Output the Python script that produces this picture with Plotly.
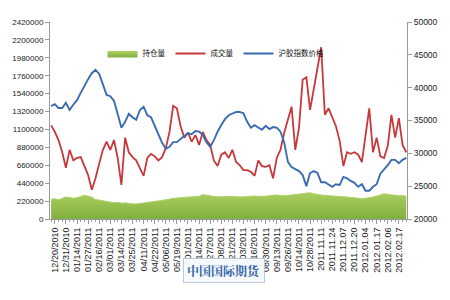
import plotly.graph_objects as go

# ---- data (sampled every 3 trading days) ----
x_labels = ["12/20/2010", "12/31/2010", "01/14/2011", "01/27/2011", "02/16/2011",
            "03/01/2011", "03/14/2011", "03/25/2011", "04/11/2011", "04/22/2011",
            "05/06/2011", "05/19/2011", "06/01/2011", "06/14/2011", "06/27/2011",
            "07/08/2011", "07/21/2011", "08/03/2011", "08/16/2011", "08/30/2011",
            "09/13/2011", "09/26/2011", "10/14/2011", "10/28/2011", "2011.11.11",
            "2011.11.24", "2011.12.07", "2011.12.20", "2012.01.04", "2012.01.17",
            "2012.02.06", "2012.02.17"]

open_interest = [240000, 250000, 235000, 250000, 270000, 265000, 255000, 262000, 280000, 292000,
                 280000, 268000, 240000, 232000, 225000, 218000, 210000, 200000, 205000, 195000,
                 198000, 190000, 186000, 184000, 190000, 195000, 200000, 205000, 212000, 220000,
                 228000, 235000, 245000, 255000, 258000, 262000, 265000, 270000, 272000, 270000,
                 278000, 300000, 290000, 282000, 276000, 272000, 275000, 270000, 274000, 278000,
                 272000, 268000, 272000, 276000, 280000, 282000, 278000, 275000, 280000, 285000,
                 290000, 295000, 290000, 285000, 290000, 295000, 298000, 305000, 312000, 320000,
                 322000, 310000, 300000, 295000, 290000, 285000, 280000, 278000, 275000, 272000,
                 270000, 268000, 262000, 255000, 248000, 252000, 262000, 270000, 280000, 295000,
                 310000, 305000, 298000, 292000, 285000, 290000, 280000]

volume = [1150000, 1070000, 970000, 820000, 630000, 850000, 720000, 750000, 760000, 640000,
          540000, 360000, 500000, 680000, 850000, 950000, 850000, 970000, 750000, 420000,
          1000000, 820000, 760000, 720000, 630000, 530000, 750000, 800000, 770000, 720000,
          760000, 870000, 1070000, 1390000, 1360000, 1140000, 1000000, 1060000, 950000, 1030000,
          910000, 1070000, 970000, 910000, 720000, 650000, 790000, 820000, 750000, 850000,
          700000, 660000, 600000, 600000, 580000, 530000, 720000, 650000, 640000, 660000,
          500000, 750000, 850000, 1060000, 1220000, 1380000, 850000, 1120000, 1710000, 1740000,
          1340000, 1610000, 1870000, 2110000, 1280000, 1360000, 1250000, 1140000, 960000, 650000,
          820000, 800000, 820000, 790000, 700000, 1030000, 1360000, 820000, 1000000, 770000,
          750000, 900000, 1280000, 1000000, 1240000, 910000, 820000]

price = [37200, 37500, 36900, 36900, 37700, 36600, 37400, 38100, 39200, 40300,
         41300, 42200, 42700, 42100, 40400, 38900, 38700, 38000, 36000, 33900,
         34800, 36000, 35500, 35100, 36600, 37100, 35800, 35500, 34200, 32800,
         31600, 30700, 31000, 31700, 31700, 32200, 32600, 33100, 32900, 33400,
         33300, 32800, 31700, 31000, 32000, 33300, 34300, 35200, 35800, 36100,
         36300, 36300, 36100, 34800, 33900, 34300, 34000, 33600, 34200, 33700,
         34000, 33900, 33300, 31700, 28700, 27900, 27600, 27300, 26700, 25000,
         27000, 27300, 27000, 25600, 25600, 25200, 24900, 25300, 25200, 26400,
         26200, 25800, 25500, 24900, 25300, 24300, 24300, 24900, 25300, 26900,
         27500, 28200, 29000, 29000, 28500, 29000, 29300]

left_ticks = list(range(0, 2420001, 220000))
right_ticks = list(range(20000, 50001, 5000))

x = list(range(len(volume)))
tick_pos = [3 * k + 1 for k in range(len(x_labels))]

font_en = "Liberation Sans, Arial, sans-serif"
font_cn = "Noto Sans CJK SC, sans-serif"

fig = go.Figure()
fig.add_trace(go.Scatter(
    x=x, y=open_interest, name="持仓量", mode="lines",
    line=dict(color="#ADD266", width=1), fill="tozeroy",
    fillgradient=dict(type="vertical",
                      colorscale=[[0, "#82B040"], [1, "#A9CE5F"]]),
    yaxis="y"))
fig.add_trace(go.Scatter(
    x=x, y=volume, name="成交量", mode="lines",
    line=dict(color="#C8373A", width=1.8), yaxis="y"))
fig.add_trace(go.Scatter(
    x=x, y=price, name="沪胶指数价格", mode="lines",
    line=dict(color="#3A6BB3", width=1.9), yaxis="y2"))

axis_col = "#9A9A9A"
fig.update_layout(
    width=450, height=300,
    margin=dict(l=43, r=40, t=22, b=81),
    paper_bgcolor="white", plot_bgcolor="white",
    showlegend=True,
    legend=dict(orientation="h", x=0.465, xanchor="center", y=0.84, yanchor="middle",
                font=dict(family=font_cn, size=7.5, color="#111111"),
                bgcolor="rgba(0,0,0,0)", itemwidth=30, tracegroupgap=0),
    xaxis=dict(range=[-0.3, 96.2], tickmode="array", tickvals=tick_pos, ticktext=x_labels,
               tickangle=-90, tickfont=dict(family=font_en, size=9, color="#222222"),
               showline=True, linecolor=axis_col, linewidth=1, ticks="outside",
               ticklen=4, tickcolor=axis_col, showgrid=False, zeroline=False,
               minor=dict(tickmode="linear", tick0=0, dtick=1, ticks="outside",
                          ticklen=2, tickcolor=axis_col)),
    yaxis=dict(range=[0, 2420000], tickmode="array", tickvals=left_ticks,
               ticktext=[str(v) for v in left_ticks],
               tickfont=dict(family=font_en, size=8, color="#222222"),
               showline=True, linecolor=axis_col, linewidth=1, ticks="outside",
               ticklen=4, tickcolor=axis_col, showgrid=False, zeroline=False),
    yaxis2=dict(range=[20000, 50000], tickmode="array", tickvals=right_ticks,
                ticktext=[str(v) for v in right_ticks], overlaying="y", side="right",
                tickfont=dict(family=font_en, size=8.5, color="#222222"),
                showline=True, linecolor=axis_col, linewidth=1, ticks="outside",
                ticklen=4, tickcolor=axis_col, showgrid=False, zeroline=False),
)

fig.add_annotation(
    text="<b>中国国际期货</b>", xref="paper", yref="paper", x=0.486, y=-0.259,
    xanchor="center", yanchor="middle", showarrow=False,
    font=dict(family="Noto Serif CJK SC, Noto Sans CJK SC, serif", size=12, color="#2F62A8"),
    bgcolor="#F6F9FC", bordercolor="#B9C8DA", borderwidth=1, borderpad=3)

fig.write_html("out.html")
